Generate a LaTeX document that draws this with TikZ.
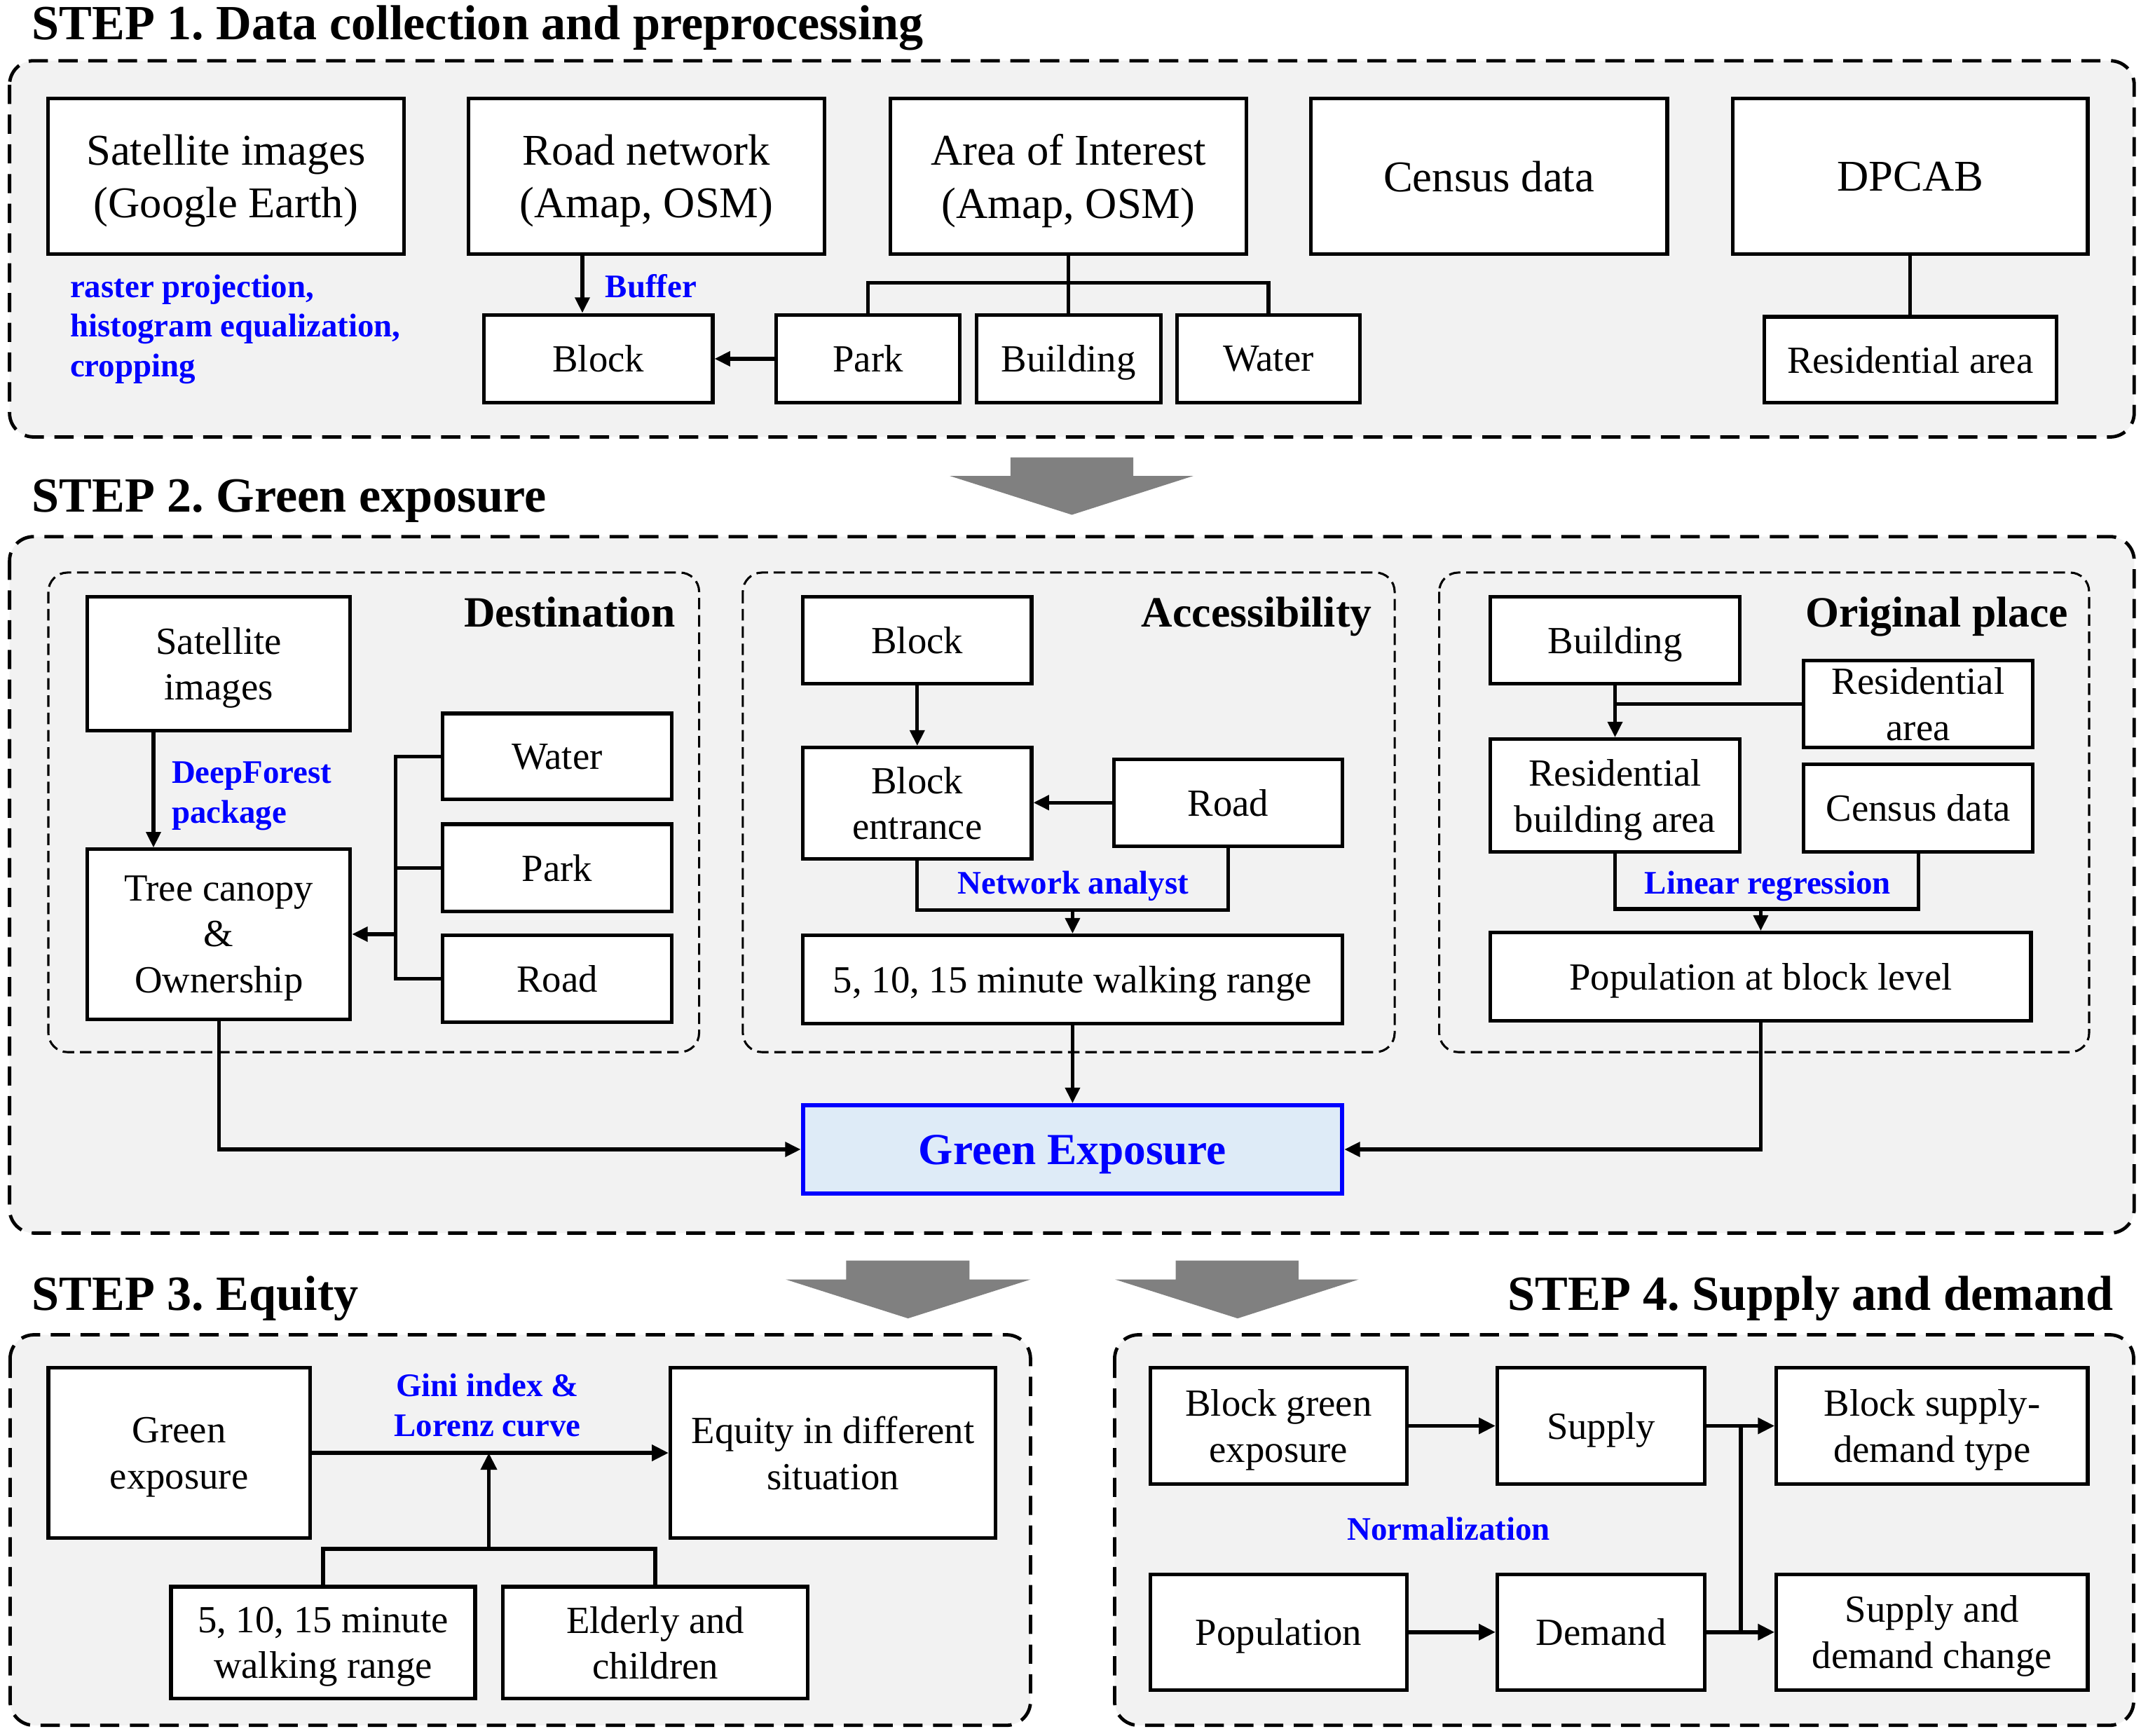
\documentclass[tikz,border=0pt]{standalone}
\usepackage{fontspec}
\setmainfont{Liberation Serif}
\usetikzlibrary{arrows.meta}
\definecolor{panelgray}{HTML}{F2F2F2}
\definecolor{geblue}{HTML}{DEEBF7}
\definecolor{labelblue}{HTML}{0000FF}
\definecolor{bigarrowgray}{HTML}{808080}
\newcommand\flowbox[7][]{%
  \pgfmathsetmacro\fbw{(#5-#3)*0.02}%
  \pgfmathsetmacro\fbh{(#6-#4)*0.02}%
  \node[box,minimum width=\fbw cm,minimum height=\fbh cm,#1] (#2) at ({(#3+#5)/2},{(#4+#6)/2}) {#7};%
}
\frenchspacing
\begin{document}
\begin{tikzpicture}[x=0.02cm,y=-0.02cm,
  box/.style={draw,line width=1.5pt,fill=white,inner sep=0pt,align=center,text depth=0pt,font=\fontsize{16}{19.2}\selectfont},
  bigbox/.style={font=\fontsize{18.3}{22}\selectfont},
  gebox/.style={draw=labelblue,fill=geblue,line width=1.8pt,text=labelblue,font=\bfseries\fontsize{18.5}{22}\selectfont},
  panel/.style={draw,line width=1.4pt,dash pattern=on 8pt off 4.4pt,fill=panelgray,rounded corners=10pt},
  subpanel/.style={draw,line width=0.9pt,dash pattern=on 4.8pt off 2.4pt,rounded corners=8pt},
  hdr/.style={font=\bfseries\fontsize{20.5}{24.6}\selectfont,inner sep=0pt},
  subhdr/.style={font=\bfseries\fontsize{18}{21.6}\selectfont,inner sep=0pt},
  lbl/.style={font=\bfseries\fontsize{13.7}{16.5}\selectfont,text=labelblue,inner sep=0pt,align=left},
  conn/.style={line width=1.5pt},
  arr/.style={conn,-{Triangle[length=6.5pt,width=6pt]}},
  connb/.style={line width=1.7pt},
  arrb/.style={connb,-{Triangle[length=7pt,width=6.5pt]}},
  bigarr/.style={fill=bigarrowgray},
]
\useasboundingbox (0,0) rectangle (1568,1271);

% ---------------- STEP 1 ----------------
\node[hdr,anchor=base west] (h1) at (23,29) {STEP 1. Data collection and preprocessing};
\draw[panel] (7,44.5) rectangle (1563,320);

\flowbox[bigbox]{sat}{35}{72}{296}{186}{Satellite images\\(Google Earth)}
\flowbox[bigbox]{road}{343}{72}{604}{186}{Road network\\(Amap, OSM)}
\flowbox[bigbox]{aoi}{652}{72}{913}{186}{Area of Interest\\(Amap, OSM)}
\flowbox[bigbox]{census}{960}{72}{1221}{186}{Census data}
\flowbox[bigbox]{dpcab}{1269}{72}{1529}{186}{DPCAB}
\flowbox{block}{354.5}{230.5}{522}{295}{Block}
\flowbox{park}{568.5}{230.5}{703}{295}{Park}
\flowbox{bldg}{715}{230.5}{850}{295}{Building}
\flowbox{water}{862}{230.5}{996}{295}{Water}
\flowbox{resid}{1292}{232}{1506}{295}{Residential area}

\coordinate (xb) at (426.5,0);
\draw[arr] (road.south -| xb) -- (block.north -| xb);
\draw[conn] (aoi.south) -- (bldg.north);
\draw[conn] (park.north) -- ++(0,-22) -| (water.north);
\draw[arr] (park.west) -- (block.east);
\draw[conn] (dpcab.south) -- (resid.north);

\node[lbl,anchor=base west] (buf) at (443,217.7) {Buffer};
\node[lbl,anchor=west] (rast) at (51,241) {raster projection,\\histogram equalization,\\cropping};

\fill[bigarr] (740,335) -- (830,335) -- (830,348.5) -- (874,348.5) -- (785,377) -- (695.5,348.5) -- (740,348.5) -- cycle;

% ---------------- STEP 2 ----------------
\node[hdr,anchor=base west] (h2) at (23,375) {STEP 2. Green exposure};
\draw[panel] (7,393) rectangle (1563,903);
\draw[subpanel] (35.4,419.3) rectangle (512,770.5);
\draw[subpanel] (544,419.3) rectangle (1021.4,770.5);
\draw[subpanel] (1054,419.3) rectangle (1530,770.5);
\node[subhdr,anchor=base east] (dest) at (495,459) {Destination};
\node[subhdr,anchor=base east] (acc) at (1005,459) {Accessibility};
\node[subhdr,anchor=base east] (orig) at (1515,459) {Original place};

\flowbox{sat2}{64}{437}{256.5}{535}{Satellite\\images}
\flowbox{water2}{324}{522.5}{492}{585.5}{Water}
\flowbox{park2}{324}{603.6}{492}{667.3}{Park}
\flowbox{road2}{324}{685}{492}{748.4}{Road}
\flowbox{tree}{64}{622}{256.5}{746.3}{Tree canopy\\\&\\Ownership}

\flowbox{blk2}{588}{437}{755.5}{500.8}{Block}
\flowbox{ent}{588}{547.5}{755.5}{629}{Block\\entrance}
\flowbox{road3}{816}{556}{983}{619.6}{Road}
\flowbox{walk}{588}{685}{983}{749.7}{5, 10, 15 minute walking range}
\flowbox[gebox]{ge}{588}{809.5}{983}{874}{Green Exposure}

\flowbox{bldg2}{1091.6}{437}{1274}{500.8}{Building}
\flowbox{res2}{1321}{483.7}{1488.6}{547.5}{Residential\\area}
\flowbox{rba}{1091.6}{541.3}{1274}{624}{Residential\\building area}
\flowbox{cen2}{1321}{559.5}{1488.6}{624}{Census data}
\flowbox{pop}{1091.6}{683}{1487.4}{747.5}{Population at block level}

\coordinate (xs) at (112.4,0);
\draw[arr] (sat2.south -| xs) -- (tree.north -| xs);
\coordinate (xbr) at (289.8,0);
\draw[conn] (water2.west) -- (water2.west -| xbr) -- (road2.west -| xbr) -- (road2.west);
\draw[conn] (park2.west) -- (park2.west -| xbr);
\draw[arr] (tree.east -| xbr) -- (tree.east);
\draw[arr] (tree.south) |- (ge.west);
\node[lbl,anchor=west] (df) at (125.4,583) {DeepForest\\package};

\draw[arr] (blk2.south) -- (ent.north);
\draw[arr] (road3.west) -- (road3.west -| ent.east);
\coordinate (ny) at (0,666.6);
\draw[conn] (ent.south) -- (ent.south |- ny) -| (road3.south);
\draw[arr] (walk.north |- ny) -- (walk.north);
\draw[arr] (walk.south) -- (ge.north);
\node[lbl] (na) at (786,649) {Network analyst};

\draw[arr] (bldg2.south) -- (rba.north);
\draw[conn] (res2.west) -- (res2.west -| bldg2.south);
\coordinate (ly) at (0,665.7);
\draw[conn] (rba.south) -- (rba.south |- ly) -| (cen2.south);
\draw[arr] (pop.north |- ly) -- (pop.north);
\draw[arr] (pop.south) |- (ge.east);
\node[lbl] (lr) at (1294.6,649) {Linear regression};

% ---------------- arrows to STEP 3 / 4 ----------------
\fill[bigarr] (619.7,923.2) -- (710,923.2) -- (710,937) -- (754.7,937) -- (665,965.5) -- (575.5,937) -- (619.7,937) -- cycle;
\fill[bigarr] (861,923.2) -- (951,923.2) -- (951,937) -- (995,937) -- (906.4,965.5) -- (816.7,937) -- (861,937) -- cycle;

% ---------------- STEP 3 ----------------
\node[hdr,anchor=base west] (h3) at (23,959.5) {STEP 3. Equity};
\draw[panel] (7.4,977.5) rectangle (754.7,1263.5);
\flowbox{ge3}{35.4}{1001.6}{227}{1126.4}{Green\\exposure}
\flowbox{eq}{491}{1001.6}{729.2}{1126.4}{Equity in different\\situation}
\flowbox{wk3}{125.2}{1162}{348}{1244}{5, 10, 15 minute\\walking range}
\flowbox{eld}{368.3}{1162}{591.7}{1244}{Elderly and\\children}
\draw[arrb] (ge3.east) -- (eq.west);
\coordinate (gy) at (0,1134.2);
\draw[connb] (wk3.north) -- (wk3.north |- gy) -| (eld.north);
\coordinate (gj) at (358,1134.2);
\draw[arrb] (gj) -- (gj |- ge3.east);
\node[lbl,align=center] (gini) at (357,1029) {Gini index \&\\Lorenz curve};

% ---------------- STEP 4 ----------------
\node[hdr,anchor=base east] (h4) at (1548,959.5) {STEP 4. Supply and demand};
\draw[panel] (816.3,977.5) rectangle (1562.6,1263.5);
\flowbox{bge}{842.3}{1001.6}{1030.5}{1086.8}{Block green\\exposure}
\flowbox{sup}{1096.6}{1001.6}{1248.6}{1086.8}{Supply}
\flowbox{bsd}{1301}{1001.6}{1529}{1086.8}{Block supply-\\demand type}
\flowbox{popu}{842.3}{1153}{1030.5}{1237.5}{Population}
\flowbox{dem}{1096.6}{1153}{1248.6}{1237.5}{Demand}
\flowbox{sdc}{1301}{1153}{1529}{1237.5}{Supply and\\demand change}
\draw[arrb] (bge.east) -- (sup.west);
\draw[arrb] (popu.east) -- (dem.west);
\draw[arrb] (sup.east) -- (bsd.west);
\draw[arrb] (dem.east) -- (sdc.west);
\coordinate (vx) at (1275,0);
\draw[connb] (sup.east -| vx) -- (dem.east -| vx);
\node[lbl] (norm) at (1061,1119.5) {Normalization};
\end{tikzpicture}
\end{document}
